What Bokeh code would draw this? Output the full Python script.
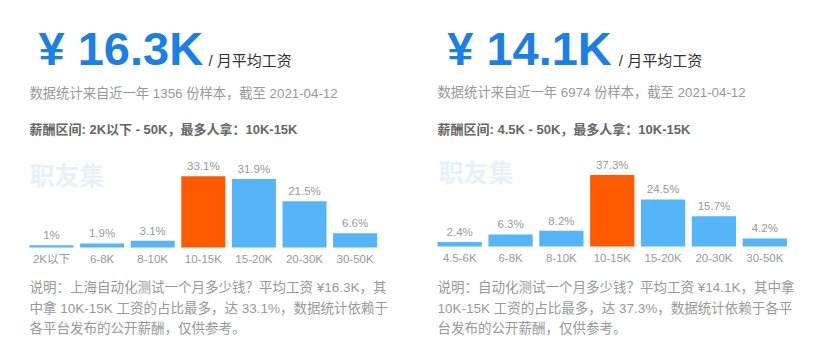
from bokeh.plotting import figure
from bokeh.layouts import row
from bokeh.models import Label, Range1d
from bokeh.core.properties import value
from bokeh.embed import file_html
from bokeh.resources import INLINE

# ---- data ----
left_categories = ["2K以下", "6-8K", "8-10K", "10-15K", "15-20K", "20-30K", "30-50K"]
left_values = [1, 1.9, 3.1, 33.1, 31.9, 21.5, 6.6]
left_avg = "¥ 16.3K"
left_info = "数据统计来自近一年 1356 份样本，截至 2021-04-12"
left_range = "薪酬区间: 2K以下 - 50K，最多人拿：10K-15K"
left_desc = ["说明：上海自动化测试一个月多少钱？平均工资 ¥16.3K，其",
             "中拿 10K-15K 工资的占比最多，达 33.1%，数据统计依赖于",
             "各平台发布的公开薪酬，仅供参考。"]

right_categories = ["4.5-6K", "6-8K", "8-10K", "10-15K", "15-20K", "20-30K", "30-50K"]
right_values = [2.4, 6.3, 8.2, 37.3, 24.5, 15.7, 4.2]
right_avg = "¥ 14.1K"
right_info = "数据统计来自近一年 6974 份样本，截至 2021-04-12"
right_range = "薪酬区间: 4.5K - 50K，最多人拿：10K-15K"
right_desc = ["说明：自动化测试一个月多少钱？平均工资 ¥14.1K，其中拿",
              "10K-15K 工资的占比最多，达 37.3%，数据统计依赖于各平",
              "台发布的公开薪酬，仅供参考。"]

FONT = "Liberation Sans, Noto Sans CJK SC"
BLUE = "#56B5F8"
ORANGE = "#FF5A00"
H = 363


def panel(cats, vals, avg, info, rng, desc, W, first_cx, step, base, k,
          cx, hx, sx, wm_x, wm_y, info_y):
    xs = list(range(len(cats)))
    p = figure(width=W, height=H, output_backend="svg", toolbar_location=None,
               x_range=Range1d(-first_cx / step, (W - first_cx) / step),
               y_range=Range1d(-(H - base) / k, base / k),
               min_border=0, x_axis_location=None, y_axis_location=None)
    p.background_fill_color = "white"
    p.border_fill_color = "white"
    p.outline_line_color = None
    p.grid.visible = False

    vmax = max(vals)
    colors = [ORANGE if v == vmax else BLUE for v in vals]
    labels = [f"{v:g}%" for v in vals]
    p.vbar(x=xs, top=vals, width=0.87, color=colors, line_color=None)
    p.text(x=xs, y=vals, text=labels, y_offset=-10, text_align="center",
           text_baseline="middle", text_font=value(FONT),
           text_font_size="11.5px", text_color="#999999")
    p.text(x=xs, y=[0] * len(xs), text=cats, y_offset=11, text_align="center",
           text_baseline="middle", text_font=value(FONT),
           text_font_size="11.5px", text_color="#999999")

    def lab(fx, fy, text, size, color, style="normal"):
        p.add_layout(Label(x=fx, y=H - fy, x_units="screen", y_units="screen",
                           text=text, text_font=FONT, text_font_size=size,
                           text_color=color, text_font_style=style,
                           text_baseline="middle", text_align="left"))

    lab(hx, 48, avg, "47px", "#1B7FE5", "bold")
    lab(sx, 60, "/ 月平均工资", "15px", "#333333")
    lab(cx, info_y, info, "13.3px", "#999999")
    lab(cx, 128.7, rng, "13px", "#666666", "bold")
    lab(wm_x, wm_y, "职友集", "25px", "#E8F1FB", "bold")
    for i, line in enumerate(desc):
        lab(cx, [286.7, 307.7, 328.3][i], line, "13.5px", "#999999")
    return p


p1 = panel(left_categories, left_values, left_avg, left_info, left_range, left_desc,
           W=415, first_cx=51, step=50.6, base=247, k=2.15,
           cx=29, hx=38, sx=208, wm_x=29, wm_y=175, info_y=92.7)
p2 = panel(right_categories, right_values, right_avg, right_info, right_range, right_desc,
           W=416, first_cx=44.2, step=50.85, base=246, k=1.92,
           cx=22, hx=31.7, sx=203.3, wm_x=23, wm_y=172.7, info_y=91.5)

layout = row(p1, p2)
open("out.html", "w").write(file_html(layout, INLINE))
